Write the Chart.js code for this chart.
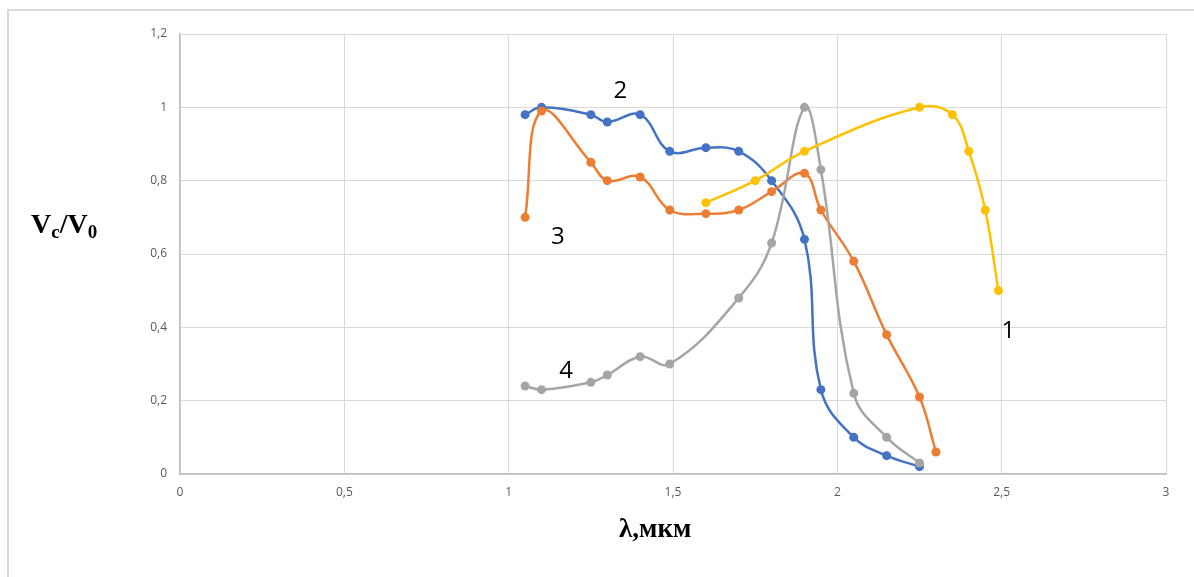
<!DOCTYPE html>
<html>
<head>
<meta charset="utf-8">
<script src="https://cdn.jsdelivr.net/npm/chart.js@4/dist/chart.umd.min.js"></script>
<style>
    html, body { margin: 0; padding: 0; background: #fff; }
    #wrap { position: relative; width: 1194px; height: 577px; overflow: hidden; }
    #frameTop { position: absolute; left: 8px; top: 9px; width: 1186px; height: 0; border-top: 2px solid #d9d9d9; }
    #frameLeft { position: absolute; left: 7px; top: 9px; width: 0; height: 568px; border-left: 2px solid #d9d9d9; }
    #chart { position: absolute; left: 0; top: 0; }
    .axTitle { position: absolute; font-family: "Liberation Serif", "DejaVu Serif", serif; font-weight: bold; color: #000; white-space: nowrap; }
    #yTitle { left: 31px; top: 208px; font-size: 28px; }
    #yTitle sub { font-size: 19px; vertical-align: -5px; }
    #xTitle { left: 619px; top: 513px; font-size: 27px; }
</style>
</head>
<body>
<div id="wrap">
    <div id="frameTop"></div>
    <div id="frameLeft"></div>
    <canvas id="chart" width="1194" height="577"></canvas>
    <div id="yTitle" class="axTitle">V<sub>c</sub>/V<sub>0</sub></div>
    <div id="xTitle" class="axTitle">λ,мкм</div>
</div>
<script>
// curve 1 (yellow)
const lambda1 = [1.6, 1.75, 1.9, 2.25, 2.35, 2.4, 2.45, 2.49];
const v1 = [0.74, 0.80, 0.88, 1.00, 0.98, 0.88, 0.72, 0.50];
// curve 2 (blue)
const lambda2 = [1.05, 1.1, 1.25, 1.3, 1.4, 1.49, 1.6, 1.7, 1.8, 1.9, 1.95, 2.05, 2.15, 2.25];
const v2 = [0.98, 1.00, 0.98, 0.96, 0.98, 0.88, 0.89, 0.88, 0.80, 0.64, 0.23, 0.10, 0.05, 0.02];
// curve 3 (orange)
const lambda3 = [1.05, 1.1, 1.25, 1.3, 1.4, 1.49, 1.6, 1.7, 1.8, 1.9, 1.95, 2.05, 2.15, 2.25, 2.3];
const v3 = [0.70, 0.99, 0.85, 0.80, 0.81, 0.72, 0.71, 0.72, 0.77, 0.82, 0.72, 0.58, 0.38, 0.21, 0.06];
// curve 4 (gray)
const lambda4 = [1.05, 1.1, 1.25, 1.3, 1.4, 1.49, 1.7, 1.8, 1.9, 1.95, 2.05, 2.15, 2.25];
const v4 = [0.24, 0.23, 0.25, 0.27, 0.32, 0.30, 0.48, 0.63, 1.00, 0.83, 0.22, 0.10, 0.03];

// curve numbers, placed in data units
const curveNames = ["1", "2", "3", "4"];
const nameX = [2.52, 1.34, 1.15, 1.175];
const nameY = [0.39, 1.045, 0.645, 0.28];

const xTicks = [0, 0.5, 1, 1.5, 2, 2.5, 3];
const yTicks = [0, 0.2, 0.4, 0.6, 0.8, 1, 1.2];

function toPoints(xs, ys) {
    return xs.map((x, i) => ({ x: x, y: ys[i] }));
}
function fmt(v) {
    return String(Number(v.toFixed(2))).replace(".", ",");
}
function series(xs, ys, color) {
    return {
        data: toPoints(xs, ys),
        borderColor: color,
        backgroundColor: color,
        borderWidth: 2.5,
        pointRadius: 4.5,
        pointHoverRadius: 4.5,
        pointBorderWidth: 0,
        showLine: true,
        tension: 0.4,
        fill: false
    };
}

// draws the curve numbers next to the lines
const curveNumbers = {
    id: "curveNumbers",
    afterDatasetsDraw(chart) {
        const ctx = chart.ctx;
        const xs = chart.scales.x, ys = chart.scales.y;
        ctx.save();
        ctx.fillStyle = "#000";
        ctx.font = "24px 'Open Sans', 'Liberation Sans', sans-serif";
        ctx.textAlign = "center";
        ctx.textBaseline = "middle";
        curveNames.forEach((t, i) => {
            ctx.fillText(t, xs.getPixelForValue(nameX[i]), ys.getPixelForValue(nameY[i]));
        });
        ctx.restore();
    }
};

const tickFont = { family: "'Open Sans', 'Liberation Sans', sans-serif", size: 12 };

new Chart(document.getElementById("chart"), {
    type: "scatter",
    data: {
        datasets: [
            series(lambda1, v1, "#FFC000"),
            series(lambda4, v4, "#A5A5A5"),
            series(lambda3, v3, "#ED7D31"),
            series(lambda2, v2, "#4472C4")
        ]
    },
    options: {
        responsive: false,
        animation: false,
        layout: { padding: { left: 0, top: 34, right: 28, bottom: 0 } },
        plugins: { legend: { display: false }, tooltip: { enabled: false } },
        scales: {
            x: {
                type: "linear",
                min: 0,
                max: 3,
                afterBuildTicks: axis => { axis.ticks = xTicks.map(v => ({ value: v })); },
                afterFit: axis => { axis.height = 103; },
                grid: { color: "#d9d9d9", lineWidth: 1, drawTicks: false },
                border: { color: "#bfbfbf", width: 1.5 },
                ticks: { color: "#595959", font: tickFont, padding: 11, callback: fmt, maxRotation: 0 }
            },
            y: {
                type: "linear",
                min: 0,
                max: 1.2,
                afterBuildTicks: axis => { axis.ticks = yTicks.map(v => ({ value: v })); },
                afterFit: axis => { axis.width = 180; },
                grid: { color: "#d9d9d9", lineWidth: 1, drawTicks: false },
                border: { color: "#bfbfbf", width: 1.5 },
                ticks: { color: "#595959", font: tickFont, padding: 13, callback: fmt }
            }
        }
    },
    plugins: [curveNumbers]
});
</script>
</body>
</html>
